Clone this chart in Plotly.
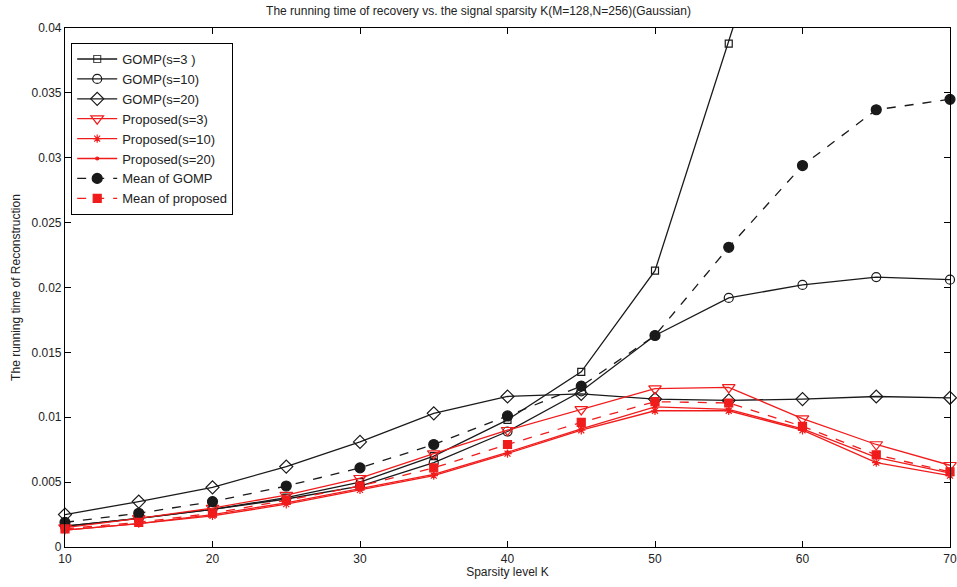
import plotly.graph_objects as go

K = [10, 15, 20, 25, 30, 35, 40, 45, 50, 55, 60, 65, 70]

gomp_s3 = [0.0016, 0.0022, 0.0029, 0.0038, 0.0050, 0.0070, 0.0098, 0.0135, 0.0213, 0.0388, 0.0567, 0.0686, 0.0715]
gomp_s10 = [0.0016, 0.0022, 0.0029, 0.0037, 0.0047, 0.0065, 0.0089, 0.0120, 0.0163, 0.0192, 0.0202, 0.0208, 0.0206]
gomp_s20 = [0.0025, 0.0035, 0.0046, 0.0062, 0.0081, 0.0103, 0.0116, 0.0118, 0.0114, 0.0113, 0.0114, 0.0116, 0.0115]
mean_gomp = [0.0019, 0.0026, 0.0035, 0.0047, 0.0061, 0.0079, 0.0101, 0.0124, 0.0163, 0.0231, 0.0294, 0.0337, 0.0345]

prop_s3 = [0.0015, 0.0022, 0.0030, 0.0040, 0.0053, 0.0072, 0.0090, 0.0106, 0.0122, 0.0123, 0.0099, 0.0079, 0.0063]
prop_s10 = [0.0013, 0.0018, 0.0024, 0.0033, 0.0044, 0.0055, 0.0072, 0.0090, 0.0105, 0.0105, 0.0090, 0.0065, 0.0055]
prop_s20 = [0.0013, 0.0018, 0.0025, 0.0034, 0.0045, 0.0056, 0.0073, 0.0091, 0.0108, 0.0106, 0.0091, 0.0069, 0.0057]
mean_prop = [0.0014, 0.0019, 0.0026, 0.0036, 0.0047, 0.0061, 0.0079, 0.0096, 0.0112, 0.0111, 0.0093, 0.0071, 0.0058]

y_max = 0.04
y_ticks = [0, 0.005, 0.01, 0.015, 0.02, 0.025, 0.03, 0.035, 0.04]
y_ticklabels = ["0", "0.005", "0.01", "0.015", "0.02", "0.025", "0.03", "0.035", "0.04"]
x_ticks = [10, 20, 30, 40, 50, 60, 70]

BLACK = "#1a1a1a"
RED = "#f01c1c"

series = [
    ("GOMP(s=3 )", gomp_s3, BLACK, "solid", "square-open", 7),
    ("GOMP(s=10)", gomp_s10, BLACK, "solid", "circle-open", 9),
    ("GOMP(s=20)", gomp_s20, BLACK, "solid", "diamond-open", 10),
    ("Proposed(s=3)", prop_s3, RED, "solid", "triangle-down-open", 11),
    ("Proposed(s=10)", prop_s10, RED, "solid", "asterisk-open", 7),
    ("Proposed(s=20)", prop_s20, RED, "solid", "circle", 3),
    ("Mean of GOMP", mean_gomp, BLACK, "dash", "circle", 10),
    ("Mean of proposed", mean_prop, RED, "dash", "square", 8),
]

fig = go.Figure()
for name, ys, col, dash, sym, size in series:
    op = [1 if v <= y_max else 0 for v in ys]
    fig.add_trace(go.Scatter(
        x=K, y=ys, name=name, mode="lines+markers",
        line=dict(color=col, width=1.3, dash=dash),
        marker=dict(symbol=sym, size=size, color=col, opacity=op,
                    line=dict(color=col, width=1.2)),
        cliponaxis=False,
    ))

axis_common = dict(
    showline=True, linecolor="black", linewidth=1.2, mirror="ticks",
    ticks="inside", ticklen=6, tickcolor="black", showgrid=False, zeroline=False,
    automargin=False, ticklabeloverflow="allow",
    tickfont=dict(family="Liberation Sans, Arial", size=12, color="#222"),
)

fig.update_layout(
    width=957, height=587,
    margin=dict(l=65, r=7, t=28, b=40, autoexpand=False),
    paper_bgcolor="white", plot_bgcolor="white",
    font=dict(family="Liberation Sans, Arial", size=12, color="#222"),
    title=dict(text="The running time of recovery vs. the signal sparsity K(M=128,N=256)(Gaussian)",
               x=0.5, xanchor="center", y=0.988, yanchor="top",
               font=dict(size=12, color="#222")),
    xaxis=dict(range=[10, 70], tickvals=x_ticks,
               title=dict(text="Sparsity level K", standoff=2, font=dict(size=12)),
               **axis_common),
    yaxis=dict(range=[0, y_max], tickvals=y_ticks, ticktext=y_ticklabels,
               title=dict(text="The running time of Reconstruction", standoff=8, font=dict(size=12)),
               **axis_common),
    legend=dict(x=0.007, y=0.971, xanchor="left", yanchor="top",
                bgcolor="white", bordercolor="black", borderwidth=1,
                font=dict(size=13, color="#222"), tracegroupgap=0, itemwidth=40),
    showlegend=True,
)

fig.write_html("out.html", config={"displayModeBar": False},
               post_script="document.body.style.margin='0';document.body.style.overflow='hidden';")
